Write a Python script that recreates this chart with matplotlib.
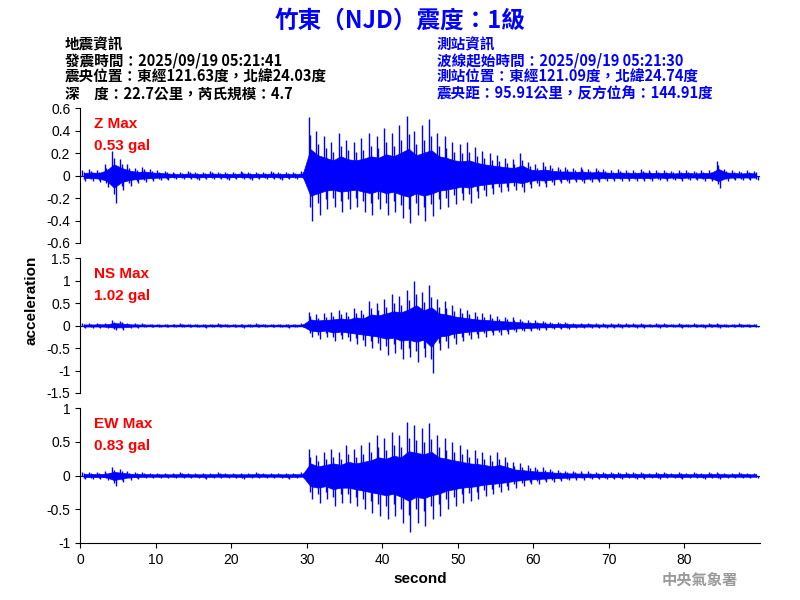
import numpy as np
import matplotlib
matplotlib.use('Agg')
import matplotlib.pyplot as plt

plt.rcParams['font.family'] = ['Liberation Sans', 'Noto Sans CJK TC', 'DejaVu Sans']

# per-second envelope of each trace (upper peak, lower peak magnitude), 0..89 s
z_up = [0.05, 0.06, 0.05, 0.10, 0.22, 0.15, 0.10, 0.07, 0.08, 0.06,
        0.05, 0.04, 0.03, 0.03, 0.04, 0.03, 0.03, 0.04, 0.03, 0.03,
        0.03, 0.04, 0.03, 0.03, 0.03, 0.04, 0.03, 0.03, 0.03, 0.04,
        0.52, 0.40, 0.35, 0.30, 0.38, 0.32, 0.30, 0.33, 0.38, 0.35,
        0.42, 0.38, 0.45, 0.53, 0.40, 0.45, 0.50, 0.38, 0.35, 0.30,
        0.28, 0.30, 0.25, 0.22, 0.20, 0.18, 0.16, 0.15, 0.20, 0.12,
        0.10, 0.12, 0.09, 0.08, 0.08, 0.07, 0.08, 0.06, 0.07, 0.06,
        0.05, 0.06, 0.05, 0.05, 0.06, 0.05, 0.05, 0.05, 0.04, 0.05,
        0.05, 0.04, 0.05, 0.05, 0.13, 0.06, 0.05, 0.04, 0.05, 0.04]
z_dn = [0.05, 0.05, 0.06, 0.10, 0.24, 0.13, 0.09, 0.07, 0.06, 0.05,
        0.04, 0.04, 0.03, 0.03, 0.03, 0.04, 0.03, 0.03, 0.03, 0.04,
        0.03, 0.03, 0.04, 0.03, 0.03, 0.03, 0.04, 0.03, 0.03, 0.03,
        0.40, 0.35, 0.30, 0.28, 0.32, 0.30, 0.28, 0.32, 0.35, 0.30,
        0.35, 0.32, 0.38, 0.42, 0.35, 0.40, 0.36, 0.30, 0.28, 0.25,
        0.22, 0.24, 0.20, 0.18, 0.16, 0.15, 0.14, 0.13, 0.15, 0.11,
        0.09, 0.10, 0.08, 0.07, 0.07, 0.06, 0.07, 0.06, 0.06, 0.05,
        0.05, 0.05, 0.05, 0.05, 0.05, 0.05, 0.04, 0.05, 0.04, 0.05,
        0.04, 0.04, 0.05, 0.05, 0.11, 0.05, 0.04, 0.04, 0.04, 0.04]
ns_up = [0.05, 0.05, 0.06, 0.06, 0.12, 0.10, 0.06, 0.05, 0.05, 0.04,
         0.04, 0.04, 0.04, 0.05, 0.04, 0.04, 0.04, 0.04, 0.05, 0.04,
         0.04, 0.04, 0.04, 0.05, 0.04, 0.04, 0.04, 0.04, 0.04, 0.05,
         0.30, 0.25, 0.28, 0.30, 0.35, 0.30, 0.40, 0.35, 0.55, 0.50,
         0.60, 0.70, 0.65, 0.80, 1.00, 0.75, 0.90, 0.60, 0.55, 0.45,
         0.40, 0.35, 0.30, 0.28, 0.25, 0.22, 0.20, 0.18, 0.15, 0.12,
         0.12, 0.10, 0.08, 0.08, 0.07, 0.06, 0.06, 0.06, 0.05, 0.05,
         0.05, 0.05, 0.05, 0.05, 0.05, 0.04, 0.05, 0.05, 0.04, 0.05,
         0.04, 0.05, 0.04, 0.05, 0.05, 0.04, 0.04, 0.05, 0.04, 0.04]
ns_dn = [0.05, 0.05, 0.05, 0.06, 0.10, 0.09, 0.06, 0.05, 0.04, 0.04,
         0.04, 0.04, 0.04, 0.04, 0.04, 0.04, 0.05, 0.04, 0.04, 0.04,
         0.04, 0.05, 0.04, 0.04, 0.04, 0.04, 0.04, 0.05, 0.04, 0.04,
         0.25, 0.30, 0.25, 0.35, 0.30, 0.35, 0.40, 0.45, 0.50, 0.55,
         0.65, 0.60, 0.75, 0.70, 0.80, 0.70, 1.05, 0.55, 0.50, 0.40,
         0.35, 0.30, 0.28, 0.25, 0.22, 0.20, 0.18, 0.15, 0.13, 0.12,
         0.10, 0.09, 0.08, 0.07, 0.07, 0.06, 0.06, 0.05, 0.05, 0.05,
         0.05, 0.05, 0.04, 0.05, 0.05, 0.04, 0.05, 0.04, 0.04, 0.05,
         0.04, 0.04, 0.05, 0.04, 0.05, 0.04, 0.04, 0.04, 0.04, 0.04]
ew_up = [0.05, 0.05, 0.05, 0.06, 0.12, 0.09, 0.06, 0.05, 0.05, 0.04,
         0.04, 0.04, 0.04, 0.05, 0.04, 0.04, 0.04, 0.04, 0.05, 0.04,
         0.04, 0.04, 0.04, 0.05, 0.04, 0.04, 0.04, 0.04, 0.04, 0.05,
         0.40, 0.30, 0.35, 0.40, 0.35, 0.45, 0.40, 0.45, 0.50, 0.60,
         0.55, 0.65, 0.60, 0.80, 0.75, 0.70, 0.78, 0.60, 0.55, 0.50,
         0.45, 0.40, 0.38, 0.35, 0.30, 0.35, 0.28, 0.20, 0.18, 0.15,
         0.13, 0.12, 0.10, 0.08, 0.07, 0.07, 0.06, 0.06, 0.05, 0.05,
         0.05, 0.05, 0.05, 0.05, 0.05, 0.04, 0.05, 0.05, 0.04, 0.05,
         0.04, 0.05, 0.04, 0.05, 0.05, 0.04, 0.04, 0.05, 0.04, 0.04]
ew_dn = [0.05, 0.05, 0.05, 0.06, 0.15, 0.10, 0.06, 0.05, 0.04, 0.04,
         0.04, 0.04, 0.04, 0.04, 0.04, 0.04, 0.05, 0.04, 0.04, 0.04,
         0.04, 0.05, 0.04, 0.04, 0.04, 0.04, 0.04, 0.05, 0.04, 0.04,
         0.35, 0.40, 0.35, 0.45, 0.40, 0.40, 0.45, 0.50, 0.55, 0.60,
         0.65, 0.60, 0.70, 0.83, 0.70, 0.75, 0.65, 0.60, 0.50, 0.45,
         0.40, 0.38, 0.35, 0.30, 0.28, 0.25, 0.22, 0.18, 0.15, 0.13,
         0.12, 0.10, 0.09, 0.08, 0.07, 0.06, 0.06, 0.05, 0.05, 0.05,
         0.05, 0.05, 0.04, 0.05, 0.05, 0.04, 0.05, 0.04, 0.04, 0.05,
         0.04, 0.04, 0.05, 0.04, 0.05, 0.04, 0.04, 0.04, 0.04, 0.04]

traces = [("Z Max", "0.53 gal", z_up, z_dn, (-0.6, 0.6), np.arange(-0.6, 0.61, 0.2)),
          ("NS Max", "1.02 gal", ns_up, ns_dn, (-1.5, 1.5), np.arange(-1.5, 1.51, 0.5)),
          ("EW Max", "0.83 gal", ew_up, ew_dn, (-1, 1), np.arange(-1, 1.01, 0.5))]

fig = plt.figure(figsize=(8, 6), dpi=100)
tops = [108, 258, 408]
h = 135
blue = '#0000ff'
cjk = ['Noto Sans CJK TC', 'DejaVu Sans']

for i, (name, val, up, dn, lim, ticks) in enumerate(traces):
    ax = fig.add_axes([80 / 800, 1 - (tops[i] + h) / 600, 680 / 800, h / 600])
    up = np.array(up)
    dn = np.array(dn)
    t = np.arange(len(up)) + 0.5
    # dense core of the waveform, then the peak spikes
    ax.fill_between(t, 0.45 * up, -0.45 * dn, color=blue, lw=0.5)
    ax.vlines(t - 0.25, 0, up, color=blue, lw=1)
    ax.vlines(t + 0.2, -dn, 0, color=blue, lw=1)
    ax.vlines(t, -0.7 * dn, 0.7 * up, color=blue, lw=1)
    ax.plot([0, 90], [0, 0], color=blue, lw=0.8)
    ax.set_xlim(0, 90)
    ax.set_ylim(*lim)
    ax.set_yticks(ticks)
    ax.set_yticklabels([('%g' % round(v, 1)) for v in ticks], fontsize=10)
    for s in ['top', 'right']:
        ax.spines[s].set_visible(False)
    if i < 2:
        ax.spines['bottom'].set_visible(False)
        ax.set_xticks([])
    else:
        ax.set_xticks(np.arange(0, 81, 10))
        ax.tick_params(labelsize=10)
        ax.set_xlabel('second', fontsize=11, fontweight='bold')
    ax.text(0.02, 0.93, name, transform=ax.transAxes, color='red', fontsize=11,
            fontweight='bold', va='top')
    ax.text(0.02, 0.77, val, transform=ax.transAxes, color='red', fontsize=11,
            fontweight='bold', va='top')

fig.text(0.04, 0.5, 'acceleration', rotation=90, fontsize=11, fontweight='bold',
         va='center', ha='center')

fig.text(0.5, 0.965, '竹東（NJD）震度：1級', color=blue, fontsize=17,
         fontweight='bold', ha='center', va='center', family=cjk)

left = ['地震資訊', '發震時間：2025/09/19 05:21:41',
        '震央位置：東經121.63度，北緯24.03度', '深　度：22.7公里，芮氏規模：4.7']
right = ['測站資訊', '波線起始時間：2025/09/19 05:21:30',
         '測站位置：東經121.09度，北緯24.74度', '震央距：95.91公里，反方位角：144.91度']
for k, (a, b) in enumerate(zip(left, right)):
    y = 1 - (44 + k * 16.5) / 600
    fig.text(65 / 800, y, a, fontsize=10.5, va='center', family=cjk, fontweight='bold')
    fig.text(437 / 800, y, b, fontsize=10.5, va='center', family=cjk,
             fontweight='bold', color=blue)

fig.text(700 / 800, 1 - 580 / 600, '中央氣象署', color='#999999', fontsize=11,
         ha='center', va='center', family=cjk, fontweight='bold')

fig.savefig('out.png', dpi=100)
